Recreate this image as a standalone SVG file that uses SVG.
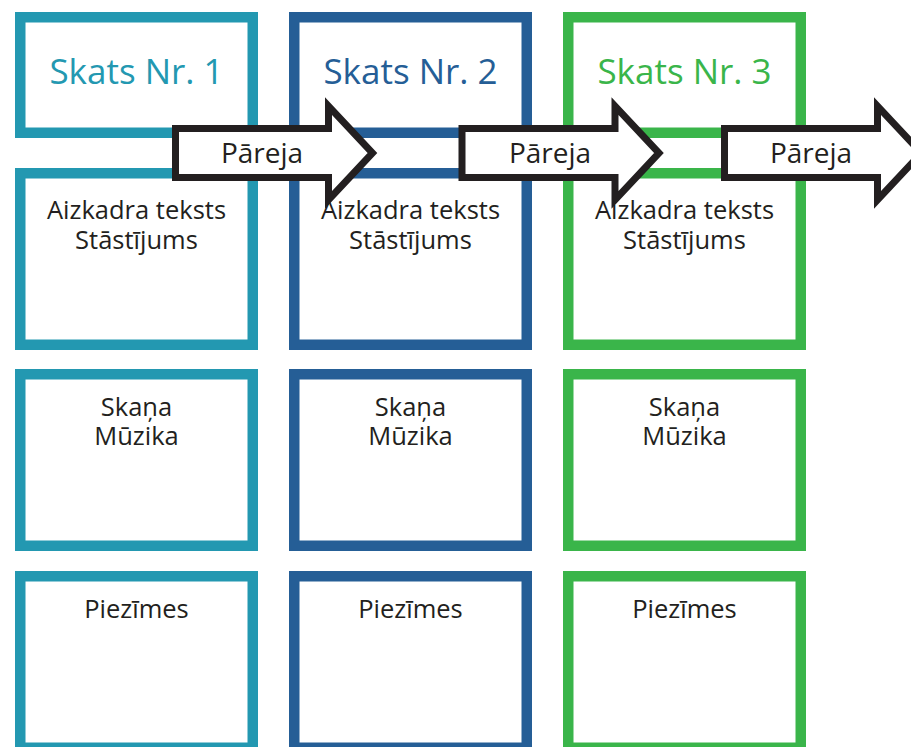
<svg xmlns="http://www.w3.org/2000/svg" width="911" height="747" viewBox="0 0 911 747">
<style>
.box{fill:#fff;stroke-width:10.5}
.c1{stroke:#2398b1}
.c2{stroke:#255e96}
.c3{stroke:#3ab54a}
.title{font-family:"Open Sans","Noto Sans",sans-serif;font-size:35px;text-anchor:middle}
.t1{fill:#2398b1}.t2{fill:#255e96}.t3{fill:#3ab54a}
.lbl{font-family:"Open Sans","Noto Sans",sans-serif;font-size:25.5px;fill:#231f20;text-anchor:middle}
.arrow{fill:#fff;stroke:#231f20;stroke-width:7;stroke-linejoin:miter}
.alab{font-family:"Open Sans","Noto Sans",sans-serif;font-size:28px;fill:#231f20;text-anchor:middle}
</style>
<rect width="911" height="747" fill="#fff"/>
<g id="scene1">
<rect class="box c1" x="20.25" y="17.25" width="232.5" height="115.5"/>
<text class="title t1" x="136.5" y="84">Skats Nr. 1</text>
</g>
<g id="scene2">
<rect class="box c2" x="294.25" y="17.25" width="232.5" height="115.5"/>
<text class="title t2" x="410.5" y="84">Skats Nr. 2</text>
</g>
<g id="scene3">
<rect class="box c3" x="568.25" y="17.25" width="232.5" height="115.5"/>
<text class="title t3" x="684.5" y="84">Skats Nr. 3</text>
</g>
<g id="text1">
<rect class="box c1" x="20.25" y="173.25" width="232.5" height="171.5"/>
<text class="lbl" x="136.5" y="219">Aizkadra teksts</text>
<text class="lbl" x="136.5" y="249">Stāstījums</text>
</g>
<g id="text2">
<rect class="box c2" x="294.25" y="173.25" width="232.5" height="171.5"/>
<text class="lbl" x="410.5" y="219">Aizkadra teksts</text>
<text class="lbl" x="410.5" y="249">Stāstījums</text>
</g>
<g id="text3">
<rect class="box c3" x="568.25" y="173.25" width="232.5" height="171.5"/>
<text class="lbl" x="684.5" y="219">Aizkadra teksts</text>
<text class="lbl" x="684.5" y="249">Stāstījums</text>
</g>
<g id="sound1">
<rect class="box c1" x="20.25" y="374.25" width="232.5" height="171.5"/>
<text class="lbl" x="136.5" y="416">Skaņa</text>
<text class="lbl" x="136.5" y="445">Mūzika</text>
</g>
<g id="sound2">
<rect class="box c2" x="294.25" y="374.25" width="232.5" height="171.5"/>
<text class="lbl" x="410.5" y="416">Skaņa</text>
<text class="lbl" x="410.5" y="445">Mūzika</text>
</g>
<g id="sound3">
<rect class="box c3" x="568.25" y="374.25" width="232.5" height="171.5"/>
<text class="lbl" x="684.5" y="416">Skaņa</text>
<text class="lbl" x="684.5" y="445">Mūzika</text>
</g>
<g id="notes1">
<rect class="box c1" x="20.25" y="576.25" width="232.5" height="171.5"/>
<text class="lbl" x="136.5" y="618">Piezīmes</text>
</g>
<g id="notes2">
<rect class="box c2" x="294.25" y="576.25" width="232.5" height="171.5"/>
<text class="lbl" x="410.5" y="618">Piezīmes</text>
</g>
<g id="notes3">
<rect class="box c3" x="568.25" y="576.25" width="232.5" height="171.5"/>
<text class="lbl" x="684.5" y="618">Piezīmes</text>
</g>
<g id="connectors">
<g id="transition1">
<path class="arrow" d="M175.5,128.5 H328.5 V106 L372.5,153 L328.5,200 V177.5 H175.5 Z"/>
<text class="alab" x="262" y="163">Pāreja</text>
</g>
<g id="transition2">
<path class="arrow" d="M462,128.5 H615 V106 L659,153 L615,200 V177.5 H462 Z"/>
<text class="alab" x="550" y="163">Pāreja</text>
</g>
<g id="transition3">
<path class="arrow" d="M724.5,128.5 H877.5 V106 L921.5,153 L877.5,200 V177.5 H724.5 Z"/>
<text class="alab" x="811" y="163">Pāreja</text>
</g>
</g>
</svg>
